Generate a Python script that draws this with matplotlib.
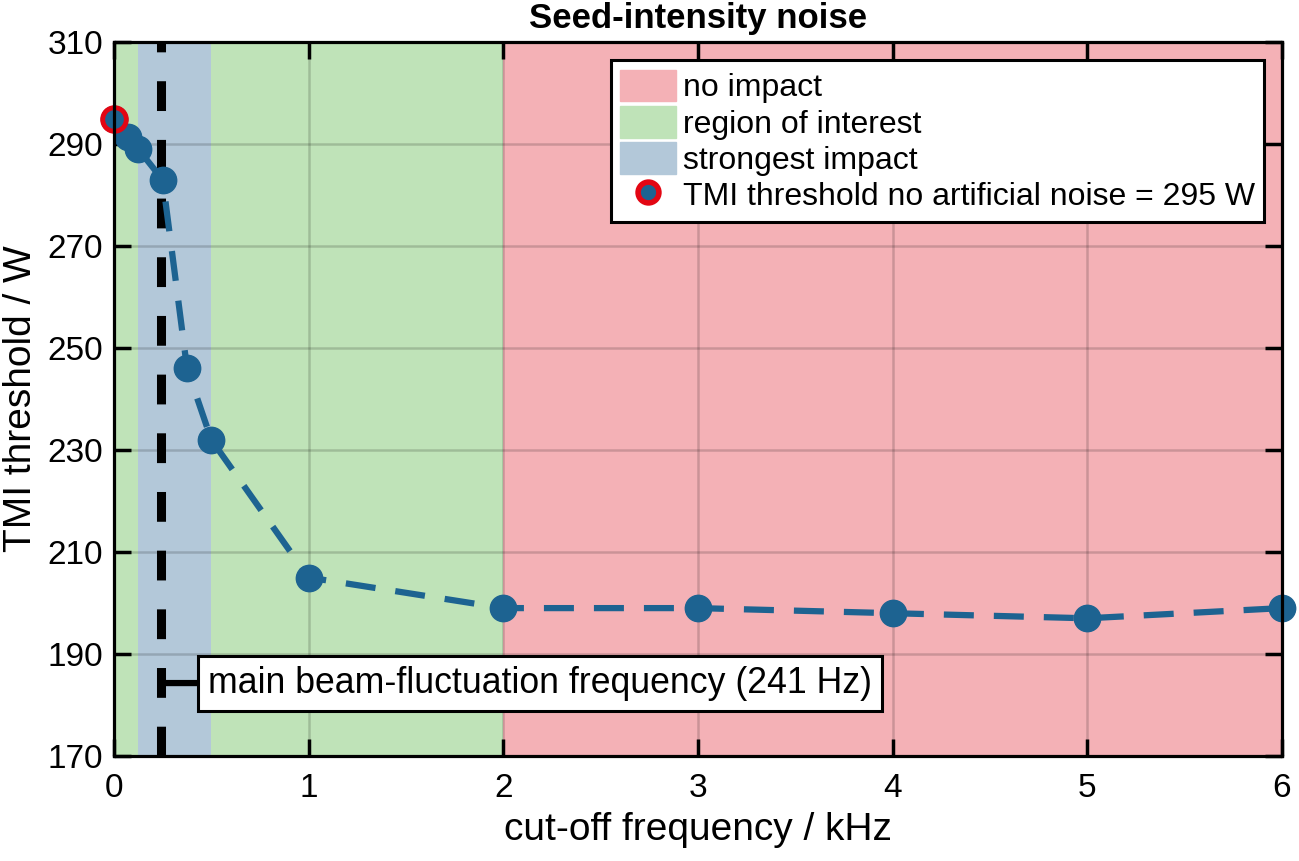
#!/usr/bin/env python3
"""Seed-intensity noise: TMI threshold vs. cut-off frequency."""

import matplotlib
matplotlib.use("Agg")
import matplotlib.pyplot as plt
from matplotlib.patches import Patch
from matplotlib.lines import Line2D

plt.rcParams["font.family"] = ["Liberation Sans", "DejaVu Sans"]

# data
cutoff_khz = [0.0, 0.07, 0.125, 0.25, 0.375, 0.5, 1.0, 2.0, 3.0, 4.0, 5.0, 6.0]
tmi_threshold_w = [295, 291.5, 289, 283, 246, 232, 205, 199, 199, 198, 197, 199]

ref_threshold_w = 295
beam_freq_khz = 0.241

# shaded regions (kHz)
roi_span = (0.0, 2.0)
strongest_span = (0.125, 0.5)
no_impact_span = (2.0, 6.0)

x_ticks = [0, 1, 2, 3, 4, 5, 6]
y_ticks = [170, 190, 210, 230, 250, 270, 290, 310]

RED = "#f4b1b6"
GREEN = "#bfe3b8"
BLUE = "#b3c8d9"
DOT = "#1d6391"

fig = plt.figure(figsize=(12.99, 8.61), dpi=100)
ax = fig.add_axes([0.0878, 0.122, 0.899, 0.829])

ax.axvspan(*no_impact_span, color=RED, lw=0, zorder=0.5)
ax.axvspan(*roi_span, color=GREEN, lw=0, zorder=0.5)
ax.axvspan(*strongest_span, color=BLUE, lw=0, zorder=0.5)

ax.axvline(beam_freq_khz, color="black", lw=6.5, ls=(0, (3.3, 3.2)), zorder=2)

ax.plot(cutoff_khz, tmi_threshold_w, ls=(0, (4.8, 3.2)), lw=4.5, color=DOT,
        marker="o", ms=19, mfc=DOT, mec=DOT, zorder=3, clip_on=False)
ax.plot([0], [ref_threshold_w], ls="none", marker="o", ms=17, mfc=DOT,
        mec="#e30613", mew=3.5, zorder=4, clip_on=False)

ax.annotate("main beam-fluctuation frequency (241 Hz)",
            xy=(beam_freq_khz, 184.3), xytext=(0.485, 184.3),
            va="center", ha="left", fontsize=25.7, zorder=5,
            bbox=dict(boxstyle="square,pad=0.28", fc="white", ec="black", lw=2.2),
            arrowprops=dict(arrowstyle="-", lw=4.5, color="black",
                            shrinkA=0, shrinkB=0))

ax.set_xlim(0, 6)
ax.set_ylim(170, 310)
ax.set_xticks(x_ticks)
ax.set_yticks(y_ticks)
ax.grid(True, color="black", alpha=0.17, lw=1.8)
ax.tick_params(direction="in", length=12, width=2.5, labelsize=24,
               top=True, right=True)
ax.tick_params(axis="x", pad=12)
ax.tick_params(axis="y", pad=8)
for s in ax.spines.values():
    s.set_linewidth(2.3)
    s.set_zorder(6)

ax.set_xlabel("cut-off frequency / kHz", fontsize=28, labelpad=6)
ax.set_ylabel("TMI threshold / W", fontsize=28, labelpad=6)
ax.set_title("Seed-intensity noise", fontsize=25, fontweight="bold", pad=10)

handles = [
    Patch(color=RED, label="no impact"),
    Patch(color=GREEN, label="region of interest"),
    Patch(color=BLUE, label="strongest impact"),
    Line2D([], [], ls="none", marker="o", ms=15, mfc=DOT, mec="#e30613",
           mew=4, label=f"TMI threshold no artificial noise = {ref_threshold_w} W"),
]
leg = ax.legend(handles=handles, loc="upper right", fontsize=23,
                bbox_to_anchor=(0.985, 0.975), fancybox=False, framealpha=1,
                edgecolor="black", handlelength=1.75, handleheight=1.15,
                handletextpad=0.2, labelspacing=0.08, borderpad=0.3,
                borderaxespad=0)
leg.get_frame().set_linewidth(2.2)
leg.set_zorder(7)

fig.savefig("out.png", dpi=100)
